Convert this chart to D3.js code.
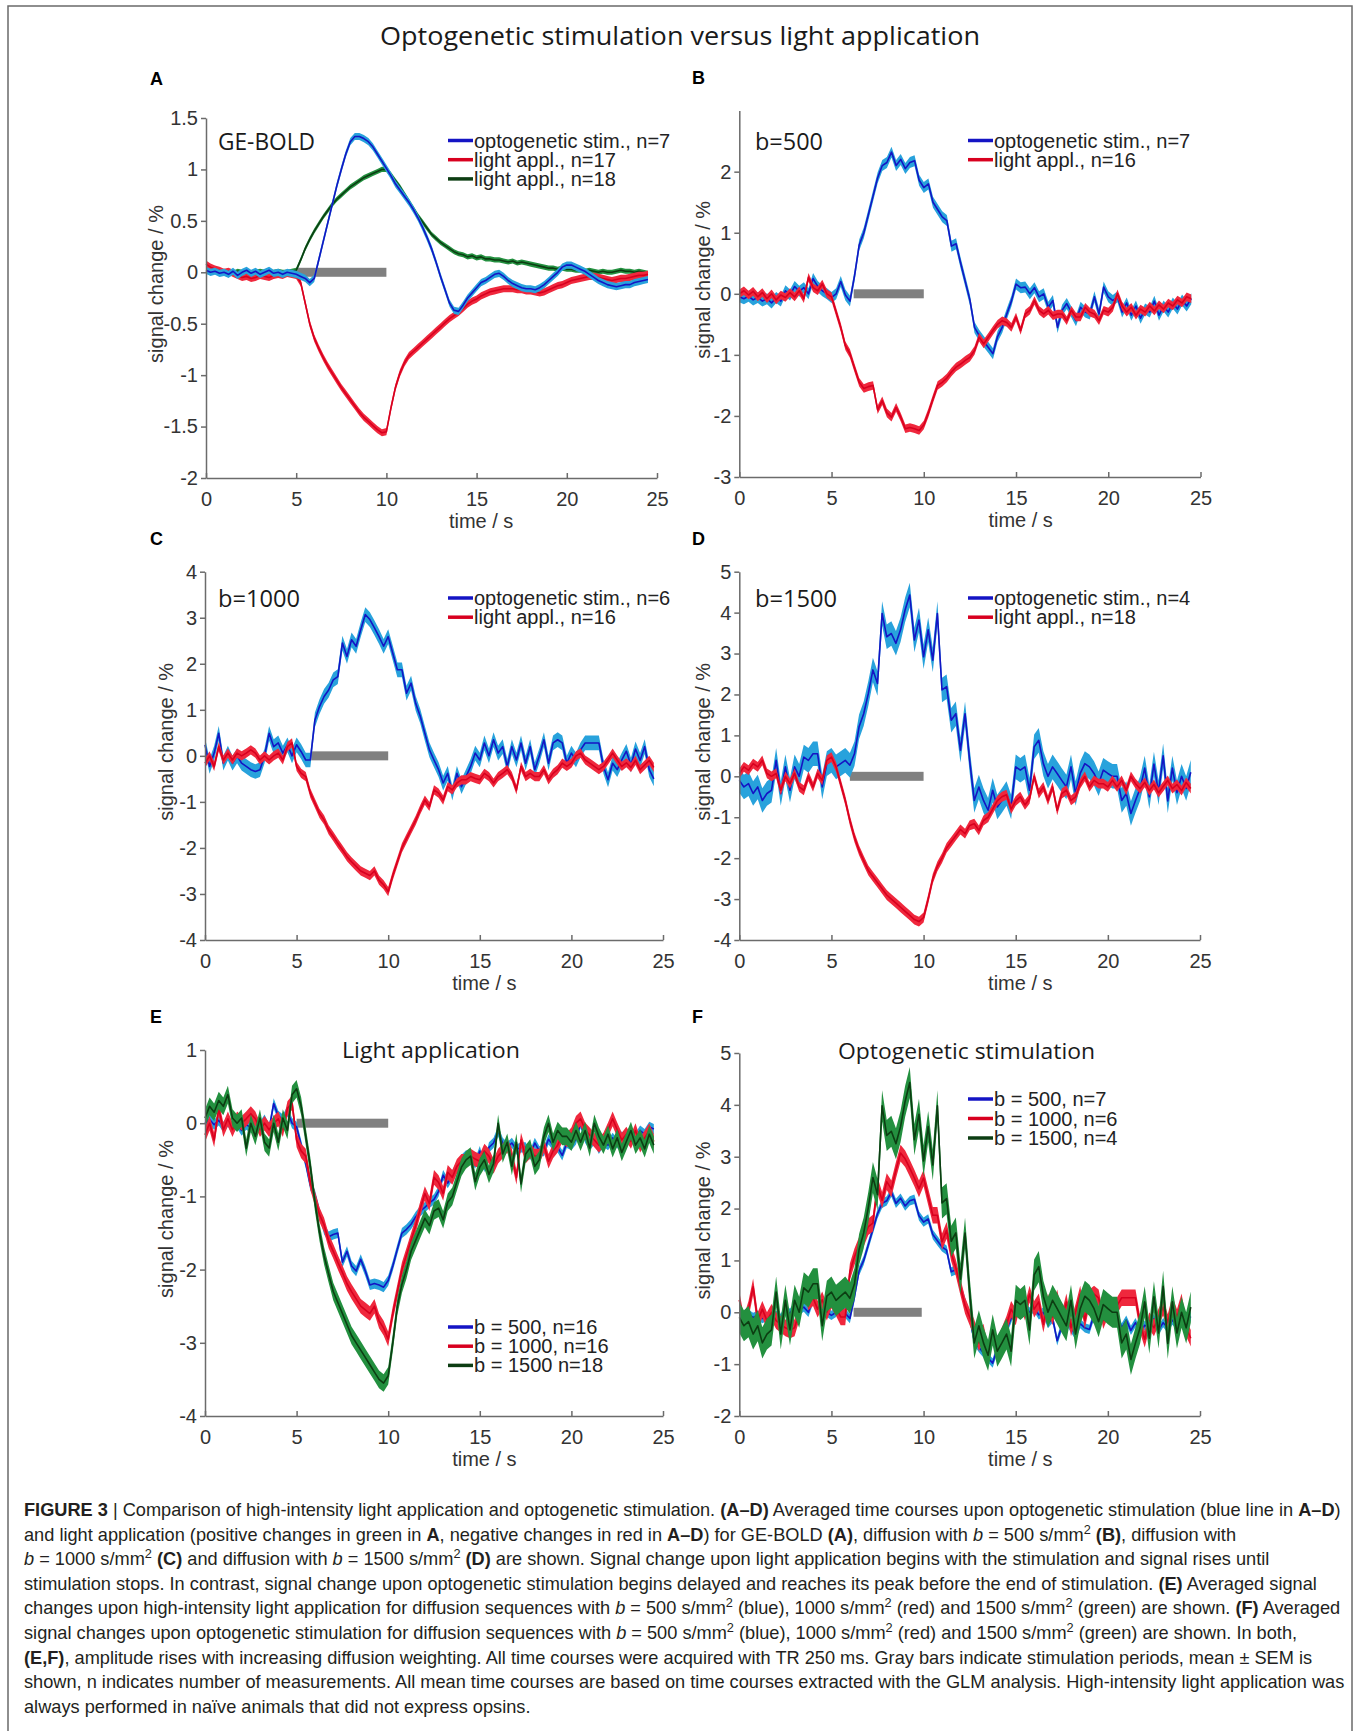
<!DOCTYPE html>
<html><head><meta charset="utf-8">
<script src="https://cdn.jsdelivr.net/npm/d3@7"></script>
<style>
html,body{margin:0;padding:0;background:#fff;}
svg{display:block;}
</style></head>
<body>
<svg id="fig" width="1360" height="1731"></svg>
<script>
// ================= DATA =================
const figTitle = "Optogenetic stimulation versus light application";
const TR = 0.25;                       // sampling interval (s)
const nSamples = 99;                   // 0 ... 24.5 s
const time = d3.range(nSamples).map(i => i * TR);
const xTicks = [0, 5, 10, 15, 20, 25];

// Panel A  (GE-BOLD)
const geBoldOpto = [
 0.02, 0.00, 0.01,-0.01, 0.00,-0.02, 0.01,-0.03, 0.00, 0.02,-0.01, 0.01,-0.02, 0.00, 0.02,-0.01, 0.00,-0.02, 0.00,-0.01,
-0.02,-0.04,-0.06,-0.10,-0.06, 0.12, 0.30, 0.48, 0.66, 0.84, 1.00, 1.15, 1.27, 1.32, 1.32, 1.30, 1.27, 1.22, 1.15, 1.08,
 1.01, 0.94, 0.86, 0.80, 0.74, 0.68, 0.61, 0.53, 0.44, 0.34, 0.23, 0.10,-0.04,-0.17,-0.30,-0.37,-0.38,-0.32,-0.25,-0.20,
-0.15,-0.10,-0.08,-0.05,-0.02,-0.01,-0.04,-0.08,-0.11,-0.13,-0.15,-0.16,-0.16,-0.17,-0.15,-0.12,-0.08,-0.04, 0.00, 0.05,
 0.07, 0.07, 0.05, 0.03, 0.01,-0.02,-0.05,-0.08,-0.10,-0.12,-0.13,-0.14,-0.13,-0.12,-0.12,-0.10,-0.09,-0.08,-0.07];
const geBoldLight17 = [
 0.08, 0.05, 0.03, 0.02, 0.00, 0.01,-0.01,-0.03,-0.05,-0.04,-0.06,-0.05,-0.03,-0.04,-0.05,-0.03,-0.02,-0.03,-0.01,-0.02,
-0.03,-0.10,-0.30,-0.50,-0.64,-0.74,-0.83,-0.91,-0.98,-1.05,-1.12,-1.18,-1.24,-1.30,-1.36,-1.41,-1.45,-1.49,-1.53,-1.56,
-1.55,-1.32,-1.12,-0.98,-0.88,-0.81,-0.77,-0.73,-0.69,-0.65,-0.61,-0.57,-0.53,-0.49,-0.45,-0.42,-0.39,-0.35,-0.31,-0.28,
-0.26,-0.23,-0.21,-0.19,-0.18,-0.17,-0.16,-0.16,-0.16,-0.17,-0.17,-0.18,-0.18,-0.19,-0.20,-0.19,-0.17,-0.15,-0.13,-0.12,
-0.10,-0.08,-0.07,-0.06,-0.05,-0.04,-0.04,-0.05,-0.06,-0.07,-0.08,-0.07,-0.06,-0.06,-0.05,-0.04,-0.03,-0.03,-0.02];
const geBoldLight18 = [
 0.00, 0.02, 0.01,-0.01, 0.01, 0.00,-0.01, 0.01, 0.00, 0.01,-0.01, 0.00, 0.01, 0.00,-0.01, 0.00, 0.01, 0.00, 0.00, 0.01,
 0.02, 0.12, 0.23, 0.32, 0.40, 0.47, 0.54, 0.60, 0.66, 0.71, 0.75, 0.79, 0.83, 0.86, 0.89, 0.92, 0.94, 0.96, 0.98, 1.00,
 1.00, 0.95, 0.89, 0.83, 0.76, 0.69, 0.62, 0.55, 0.49, 0.43, 0.37, 0.33, 0.29, 0.26, 0.23, 0.20, 0.18, 0.17, 0.15, 0.16,
 0.14, 0.15, 0.13, 0.13, 0.12, 0.12, 0.11, 0.10, 0.11, 0.09, 0.10, 0.09, 0.08, 0.07, 0.06, 0.05, 0.04, 0.04, 0.03, 0.04,
 0.03, 0.03, 0.02, 0.02, 0.01, 0.02, 0.01, 0.00, 0.01, 0.00, 0.00, 0.01, 0.02, 0.01, 0.01, 0.00, 0.01, 0.00,-0.01];

// Diffusion-weighted series (also reused in E and F)
const opto500 = [
-0.05,-0.08,-0.04,-0.10,-0.06,-0.12,-0.08,-0.15,-0.06,-0.12, 0.05,-0.02, 0.12, 0.04, 0.10, 0.00, 0.25, 0.12, 0.05, 0.00,
-0.06, 0.00, 0.20,-0.02,-0.12, 0.30, 0.80, 1.00, 1.30, 1.60, 1.90, 2.10, 2.15, 2.32, 2.10, 2.20, 2.05, 2.15, 2.18, 1.86,
 1.74, 1.80, 1.50, 1.38, 1.26, 1.20, 0.78, 0.82, 0.50, 0.20,-0.10,-0.55,-0.68,-0.78,-0.88,-0.98,-0.70,-0.55,-0.33,-0.12,
 0.16, 0.10, 0.11, 0.00, 0.10,-0.05, 0.00,-0.22,-0.11,-0.55,-0.27,-0.16,-0.30,-0.44,-0.22,-0.30,-0.33,-0.05,-0.33, 0.11,
-0.05,-0.11,-0.05,-0.30,-0.15,-0.35,-0.20,-0.40,-0.25,-0.30,-0.12,-0.35,-0.20,-0.30,-0.15,-0.25,-0.10,-0.20,-0.08];
const light500 = [
 0.00, 0.05,-0.02, 0.04,-0.05, 0.02,-0.08, 0.00,-0.10,-0.02,-0.06, 0.02,-0.05, 0.05,-0.08, 0.27, 0.10, 0.05, 0.16, 0.00,
-0.05,-0.30,-0.55,-0.85,-0.98,-1.22,-1.45,-1.55,-1.52,-1.50,-1.90,-1.75,-1.95,-2.02,-1.86,-2.02,-2.21,-2.19,-2.21,-2.24,
-2.15,-1.95,-1.72,-1.50,-1.45,-1.38,-1.28,-1.20,-1.15,-1.09,-1.04,-0.93,-0.71,-0.82,-0.71,-0.60,-0.50,-0.44,-0.47,-0.55,
-0.38,-0.60,-0.33,-0.27,-0.11,-0.27,-0.33,-0.27,-0.36,-0.33,-0.33,-0.44,-0.27,-0.38,-0.38,-0.22,-0.30,-0.33,-0.44,-0.27,
-0.30,-0.22, 0.00,-0.20,-0.30,-0.22,-0.35,-0.25,-0.30,-0.20,-0.28,-0.18,-0.25,-0.15,-0.20,-0.10,-0.15,-0.05,-0.08];
const opto1000 = [
 0.24,-0.23, 0.06, 0.49,-0.16, 0.06,-0.16, 0.00,-0.16,-0.23,-0.30,-0.34,-0.30, 0.00, 0.49, 0.20, 0.28, 0.06, 0.24, 0.00,
 0.24, 0.09,-0.09,-0.09, 0.78, 1.07, 1.29, 1.43, 1.65, 1.72, 2.45, 2.16, 2.52, 2.38, 2.74, 3.07, 2.96, 2.78, 2.59, 2.38,
 2.59, 2.23, 1.87, 1.87, 1.36, 1.58, 1.14, 0.86, 0.49, 0.13,-0.09,-0.30,-0.59,-0.38,-0.81,-0.38,-0.67,-0.45,-0.23, 0.06,
-0.09, 0.28, 0.00, 0.35, 0.06, 0.20,-0.23, 0.20,-0.09, 0.28,-0.16, 0.20,-0.30, 0.00, 0.35,-0.16, 0.28, 0.35, 0.28,-0.16,
 0.06,-0.09, 0.13, 0.28, 0.28, 0.28, 0.28,-0.23,-0.52,-0.16,-0.30,-0.09, 0.10,-0.20, 0.15,-0.10, 0.20,-0.30,-0.50];
const light1000 = [
-0.16, 0.00,-0.23, 0.20,-0.09, 0.06,-0.09, 0.06, 0.00, 0.06, 0.13, 0.06,-0.09, 0.00,-0.09, 0.00, 0.06,-0.09, 0.20, 0.28,
-0.23,-0.38,-0.45,-0.81,-1.03,-1.25,-1.39,-1.61,-1.75,-1.90,-2.04,-2.19,-2.30,-2.40,-2.50,-2.55,-2.60,-2.50,-2.70,-2.80,
-2.95,-2.60,-2.30,-2.00,-1.80,-1.60,-1.40,-1.17,-0.96,-1.10,-0.74,-0.81,-0.96,-0.67,-0.74,-0.59,-0.52,-0.52,-0.45,-0.49,
-0.52,-0.38,-0.45,-0.59,-0.45,-0.38,-0.30,-0.45,-0.74,-0.23,-0.45,-0.38,-0.45,-0.45,-0.30,-0.52,-0.38,-0.30,-0.16,-0.23,
-0.16, 0.00, 0.06,-0.09,-0.16,-0.23,-0.30,-0.23,-0.09, 0.06,-0.09,-0.23,-0.15,-0.25,-0.10,-0.30,-0.20,-0.10,-0.25];
const opto1500 = [
-0.10,-0.26,-0.18,-0.42,-0.26,-0.59,-0.42,-0.34, 0.39,-0.42, 0.23,-0.34, 0.23, 0.00, 0.47, 0.39, 0.55, 0.55,-0.26, 0.31,
 0.39, 0.23, 0.31, 0.39, 0.27, 0.55, 1.21, 1.53, 2.02, 2.60, 2.27, 3.98, 3.41, 3.49, 3.25, 3.58, 4.07, 4.43, 3.33, 3.82,
 2.92, 3.58, 2.84, 3.98, 2.11, 2.19, 1.37, 1.53, 0.64, 1.53, 0.39,-0.59,-0.26,-0.59,-0.83,-0.34,-0.75,-0.59,-0.42,-0.75,
 0.23, 0.15, 0.23,-0.34, 0.72, 0.88, 0.31, 0.00, 0.23, 0.07,-0.10,-0.26, 0.23,-0.42, 0.07, 0.31, 0.23, 0.07,-0.18, 0.15,
 0.07, 0.00, 0.00,-0.59,-0.42,-0.91,-0.59,-0.30, 0.20,-0.50, 0.30,-0.40, 0.50,-0.60, 0.20,-0.40, 0.00,-0.30, 0.10];
const light1500 = [
 0.07, 0.23, 0.15, 0.31, 0.23, 0.39, 0.07, 0.00, 0.07,-0.34, 0.00,-0.18, 0.07,-0.26,-0.34, 0.00,-0.26, 0.07,-0.10, 0.39,
 0.47, 0.23,-0.18,-0.59,-1.08,-1.49,-1.81,-2.06,-2.30,-2.45,-2.60,-2.75,-2.90,-3.00,-3.10,-3.20,-3.30,-3.40,-3.50,-3.55,
-3.45,-3.00,-2.50,-2.20,-2.00,-1.75,-1.60,-1.45,-1.30,-1.40,-1.20,-1.16,-1.32,-1.08,-1.00,-0.80,-0.60,-0.50,-0.45,-0.80,
-0.60,-0.50,-0.70,-0.55, 0.00,-0.42,-0.26,-0.59,-0.26,-0.83,-0.42,-0.34,-0.59,-0.50,-0.18, 0.00,-0.26,-0.10,-0.18,-0.18,
-0.26,-0.10,-0.26,-0.10,-0.34, 0.00,-0.18,-0.30,-0.15,-0.35,-0.20,-0.40,-0.25,-0.10,-0.30,-0.20,-0.35,-0.15,-0.30];

// SEM (approximate, per series)
const semNames  = ["geBoldOpto","geBoldLight17","geBoldLight18","opto500","light500","opto1000","light1000","opto1500","light1500"];
const semValues = [0.035, 0.035, 0.025, 0.09, 0.07, 0.16, 0.10, 0.30, 0.12];

const seriesByName = {geBoldOpto, geBoldLight17, geBoldLight18, opto500, light500, opto1000, light1000, opto1500, light1500};

// Y tick values
const yTicksA = [-2, -1.5, -1, -0.5, 0, 0.5, 1, 1.5];
const yTicksB = [-3, -2, -1, 0, 1, 2];
const yTicksC = [-4, -3, -2, -1, 0, 1, 2, 3, 4];
const yTicksD = [-4, -3, -2, -1, 0, 1, 2, 3, 4, 5];
const yTicksE = [-4, -3, -2, -1, 0, 1];
const yTicksF = [-2, -1, 0, 1, 2, 3, 4, 5];

// Stimulation bars (visible extent, s)
const stimBars = {A:[5,10], B:[6.2,10], C:[5.8,10], D:[6.0,10], E:[5,10], F:[6.2,9.9]};

// Legend entries
const legA = ["optogenetic stim., n=7", "light appl., n=17", "light appl., n=18"];
const legB = ["optogenetic stim., n=7", "light appl., n=16"];
const legC = ["optogenetic stim., n=6", "light appl., n=16"];
const legD = ["optogenetic stim., n=4", "light appl., n=18"];
const legE = ["b = 500, n=16", "b = 1000, n=16", "b = 1500 n=18"];
const legF = ["b = 500, n=7", "b = 1000, n=6", "b = 1500, n=4"];

// ================= STYLE / LAYOUT =================
const palette = {
  blue:  {line:"#1414c4", band:"#28a2dc"},
  red:   {line:"#d8001f", band:"#ef283d"},
  green: {line:"#0c3d12", band:"#23903f"}
};
const sansFont = "'Liberation Sans', Arial, Helvetica, sans-serif";
const titleFont = "'Open Sans', 'Noto Sans', sans-serif";

const panels = [
 {id:"A", lab:[150,85], xr:[206,657], yr:[478,118], dom:[-2,1.5], ticks:yTicksA, ylabX:156,
  title:{text:"GE-BOLD", x:218, y:150, fs:23, w:97},
  series:[["geBoldOpto","blue"],["geBoldLight17","red"],["geBoldLight18","green"]], order:[2,1,0],
  leg:{x:448, ys:[140.5,159.7,178.9], labels:legA}},
 {id:"B", lab:[692,84], xr:[739.3,1200.5], yr:[477,110.6], dom:[-3,3], ticks:yTicksB, ylabX:703,
  title:{text:"b=500", x:755, y:150, fs:23, w:68},
  series:[["opto500","blue"],["light500","red"]], order:[0,1],
  leg:{x:968, ys:[140.5,159.7], labels:legB}},
 {id:"C", lab:[150,545], xr:[205,663], yr:[940,571.7], dom:[-4,4], ticks:yTicksC, ylabX:166,
  title:{text:"b=1000", x:218, y:607, fs:23, w:82},
  series:[["opto1000","blue"],["light1000","red"]], order:[0,1],
  leg:{x:448, ys:[598,617.2], labels:legC}},
 {id:"D", lab:[692,545], xr:[739.3,1200], yr:[940,571.7], dom:[-4,5], ticks:yTicksD, ylabX:703,
  title:{text:"b=1500", x:755, y:607, fs:23, w:82},
  series:[["opto1500","blue"],["light1500","red"]], order:[0,1],
  leg:{x:968, ys:[598,617.2], labels:legD}},
 {id:"E", lab:[150,1023], xr:[205,663], yr:[1416,1050], dom:[-4,1], ticks:yTicksE, ylabX:166,
  title:{text:"Light application", x:342, y:1058, fs:22, w:178},
  series:[["light500","blue"],["light1000","red"],["light1500","green"]], order:[0,1,2],
  leg:{x:448, ys:[1327,1346.2,1365.4], labels:legE}},
 {id:"F", lab:[692,1023], xr:[739.3,1200], yr:[1416,1053], dom:[-2,5], ticks:yTicksF, ylabX:703,
  title:{text:"Optogenetic stimulation", x:838, y:1059, fs:22, w:257},
  series:[["opto500","blue"],["opto1000","red"],["opto1500","green"]], order:[0,1,2],
  leg:{x:968, ys:[1099,1118.5,1138], labels:legF}}
];

// ================= DRAW =================
const svg = d3.select("#fig");
svg.append("rect").attr("width",1360).attr("height",1731).attr("fill","#fff");
svg.append("rect").attr("x",8).attr("y",6).attr("width",1344).attr("height",1745)
   .attr("fill","none").attr("stroke","#6a6a6a").attr("stroke-width",1.5);

svg.append("text").attr("x",680).attr("y",45).attr("text-anchor","middle")
   .style("font-family",titleFont).style("font-size","25px").attr("fill","#1a1a1a")
   .attr("textLength",600).attr("lengthAdjust","spacingAndGlyphs").text(figTitle);

function semOf(name){ return semValues[semNames.indexOf(name)]; }

panels.forEach(p => {
  const g = svg.append("g");
  const x = d3.scaleLinear().domain([0,25]).range(p.xr);
  const y = d3.scaleLinear().domain(p.dom).range(p.yr);

  // panel letter
  g.append("text").attr("x",p.lab[0]).attr("y",p.lab[1]).text(p.id)
   .style("font-family",sansFont).style("font-weight","bold").style("font-size","18px").attr("fill","#000");

  // stimulation bar
  const sb = stimBars[p.id];
  g.append("rect").attr("x",x(sb[0])).attr("width",x(sb[1])-x(sb[0]))
   .attr("y",y(0)-4.5).attr("height",9).attr("fill","#808080");

  // series
  p.order.forEach(k => {
    const [name,col] = p.series[k];
    const vals = seriesByName[name];
    const sem = semOf(name);
    const area = d3.area().x((d,i)=>x(time[i])).y0(d=>y(d-sem)).y1(d=>y(d+sem));
    g.append("path").datum(vals).attr("d",area).attr("fill",palette[col].band);
    const line = d3.line().x((d,i)=>x(time[i])).y(d=>y(d));
    g.append("path").datum(vals).attr("d",line).attr("fill","none")
     .attr("stroke",palette[col].line).attr("stroke-width",1.6).attr("stroke-linejoin","round");
  });

  // axes
  const yAxis = d3.axisLeft(y).tickValues(p.ticks).tickSize(5).tickSizeOuter(0).tickPadding(3).tickFormat(d=>String(d));
  const gy = g.append("g").attr("transform",`translate(${p.xr[0]},0)`).call(yAxis);
  const xAxis = d3.axisBottom(x).tickValues(xTicks).tickSizeInner(-5).tickSizeOuter(0).tickPadding(14).tickFormat(d=>String(d));
  const gx = g.append("g").attr("transform",`translate(0,${p.yr[0]})`).call(xAxis);
  [gx,gy].forEach(a => {
    a.attr("font-family",sansFont).attr("font-size",20);
    a.select(".domain").attr("stroke","#6b6b6b").attr("stroke-width",1.5);
    a.selectAll(".tick line").attr("stroke","#6b6b6b").attr("stroke-width",1.5);
    a.selectAll(".tick text").attr("fill","#333");
  });

  // axis labels
  g.append("text").attr("x",x(15.25)).attr("y",p.yr[0]+50).attr("text-anchor","middle")
   .style("font-family",sansFont).style("font-size","20px").attr("fill","#333").text("time / s");
  const yc = (p.yr[0]+p.yr[1])/2 - 14;
  g.append("text").attr("transform",`translate(${p.ylabX},${yc}) rotate(-90)`).attr("dy","0.35em")
   .attr("text-anchor","middle").style("font-family",sansFont).style("font-size","20px")
   .attr("fill","#333").text("signal change / %");

  // inner title
  g.append("text").attr("x",p.title.x).attr("y",p.title.y).text(p.title.text)
   .style("font-family",titleFont).style("font-size",p.title.fs+"px").attr("fill","#1a1a1a")
   .attr("textLength",p.title.w).attr("lengthAdjust","spacingAndGlyphs");

  // legend
  p.leg.labels.forEach((lab,i) => {
    const col = p.series[i][1];
    const yy = p.leg.ys[i];
    g.append("line").attr("x1",p.leg.x).attr("x2",p.leg.x+25).attr("y1",yy).attr("y2",yy)
     .attr("stroke",palette[col].line).attr("stroke-width",3.5);
    g.append("text").attr("x",p.leg.x+26).attr("y",yy).attr("dy","0.35em").text(lab)
     .style("font-family",sansFont).style("font-size","20px").attr("fill","#222");
  });
});

// ================= CAPTION =================
const captionLines = [
 [["FIGURE 3","b"],[" | Comparison of high-intensity light application and optogenetic stimulation. ",""],["(A–D)","b"],[" Averaged time courses upon optogenetic stimulation (blue line in ",""],["A–D","b"],[")",""]],
 [["and light application (positive changes in green in ",""],["A","b"],[", negative changes in red in ",""],["A–D","b"],[") for GE-BOLD ",""],["(A)","b"],[", diffusion with ",""],["b","i"],[" = 500 s/mm",""],["2","s"],[" ",""],["(B)","b"],[", diffusion with",""]],
 [["b","i"],[" = 1000 s/mm",""],["2","s"],[" ",""],["(C)","b"],[" and diffusion with ",""],["b","i"],[" = 1500 s/mm",""],["2","s"],[" ",""],["(D)","b"],[" are shown. Signal change upon light application begins with the stimulation and signal rises until",""]],
 [["stimulation stops. In contrast, signal change upon optogenetic stimulation begins delayed and reaches its peak before the end of stimulation. ",""],["(E)","b"],[" Averaged signal",""]],
 [["changes upon high-intensity light application for diffusion sequences with ",""],["b","i"],[" = 500 s/mm",""],["2","s"],[" (blue), 1000 s/mm",""],["2","s"],[" (red) and 1500 s/mm",""],["2","s"],[" (green) are shown. ",""],["(F)","b"],[" Averaged",""]],
 [["signal changes upon optogenetic stimulation for diffusion sequences with ",""],["b","i"],[" = 500 s/mm",""],["2","s"],[" (blue), 1000 s/mm",""],["2","s"],[" (red) and 1500 s/mm",""],["2","s"],[" (green) are shown. In both,",""]],
 [["(E,F)","b"],[", amplitude rises with increasing diffusion weighting. All time courses were acquired with TR 250 ms. Gray bars indicate stimulation periods, mean ± SEM is",""]],
 [["shown, n indicates number of measurements. All mean time courses are based on time courses extracted with the GLM analysis. High-intensity light application was",""]],
 [["always performed in naïve animals that did not express opsins.",""]]
];
const capG = svg.append("g").style("font-family",sansFont).attr("fill","#231f20");
function addCaptionLine(segs, yy, fs){
  const t = capG.append("text").attr("x",24).attr("y",yy).style("font-size",fs+"px");
  let pending = 0;
  segs.forEach(([txt,st]) => {
    const ts = t.append("tspan").text(txt);
    if (st === "s") {
      ts.attr("dy",-0.38*fs).style("font-size",(fs*0.7)+"px");
      pending = 0.38*fs;
    } else {
      if (pending) { ts.attr("dy",pending); pending = 0; }
      if (st === "b") ts.style("font-weight","bold");
      if (st === "i") ts.style("font-style","italic");
    }
  });
  return t;
}
const probe = addCaptionLine(captionLines[0], 1516, 16);
const w0 = probe.node().getComputedTextLength();
probe.remove();
const capFs = 16 * 1318 / w0;
captionLines.forEach((segs,k) => addCaptionLine(segs, 1516 + k*24.6, capFs));
</script>
</body></html>
